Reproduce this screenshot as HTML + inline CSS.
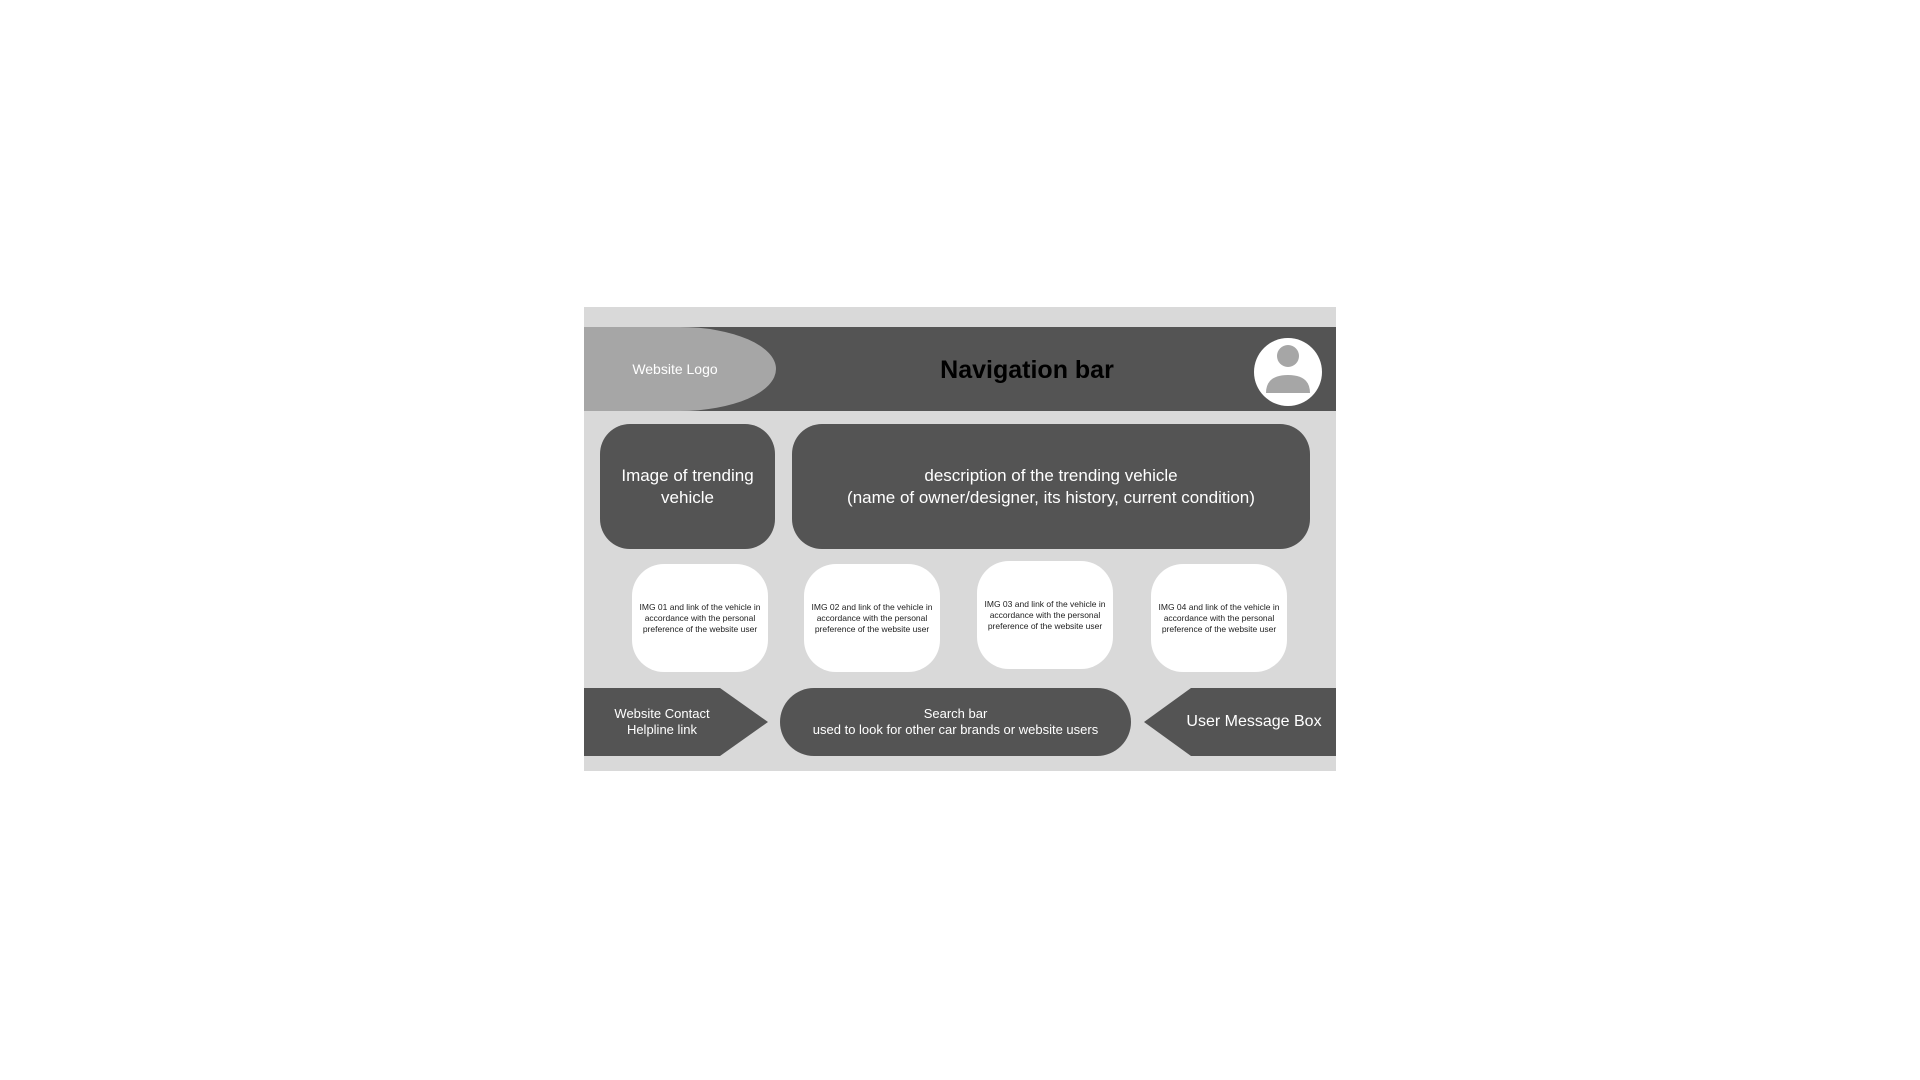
<!DOCTYPE html>
<html><head><meta charset="utf-8"><style>
body{margin:0;width:1920px;height:1080px;background:#fff;position:relative;overflow:hidden;font-family:"Liberation Sans",sans-serif;}
div{position:absolute;box-sizing:border-box}
.c{display:flex;align-items:center;justify-content:center;text-align:center;color:#fff}
.d{background:#545454}
.card{background:#fff;border-radius:32px;color:#222;font-size:8.5px;line-height:11px;width:136px;height:108px;padding:0 6px}
</style></head><body>
<div style="left:584px;top:307px;width:752px;height:464px;background:#d9d9d9"></div>
<div class="d" style="left:584px;top:327px;width:752px;height:84px"></div>
<div class="c" style="left:584px;top:327px;width:192px;height:84px;background:#a6a6a6;border-radius:0 96px 96px 0/0 42px 42px 0;font-size:14px;padding-right:10px">Website Logo</div>
<div class="c" style="left:827px;top:350px;width:400px;height:40px;color:#000;font-weight:bold;font-size:25px">Navigation bar</div>
<svg style="position:absolute;left:1253px;top:338px" width="70" height="70"><circle cx="35" cy="34" r="34" fill="#fff"/><circle cx="35" cy="18" r="11" fill="#a6a6a6"/><path d="M13 55 Q13 37 35 37 Q57 37 57 55 Z" fill="#a6a6a6"/></svg>
<div class="c d" style="left:600px;top:424px;width:175px;height:125px;border-radius:30px;font-size:17px;line-height:22px">Image of trending<br>vehicle</div>
<div class="c d" style="left:792px;top:424px;width:518px;height:125px;border-radius:30px;font-size:17px;line-height:22px">description of the trending vehicle<br>(name of owner/designer, its history, current condition)</div>
<div class="c card" style="left:632px;top:564px">IMG 01 and link of the vehicle in accordance with the personal preference of the website user</div>
<div class="c card" style="left:804px;top:564px">IMG 02 and link of the vehicle in accordance with the personal preference of the website user</div>
<div class="c card" style="left:977px;top:561px">IMG 03 and link of the vehicle in accordance with the personal preference of the website user</div>
<div class="c card" style="left:1151px;top:564px">IMG 04 and link of the vehicle in accordance with the personal preference of the website user</div>
<svg style="position:absolute;left:584px;top:688px" width="184" height="68"><polygon points="0,0 136,0 184,34 136,68 0,68" fill="#545454"/></svg>
<div class="c" style="left:584px;top:688px;width:156px;height:68px;font-size:13px;line-height:16px">Website Contact<br>Helpline link</div>
<div class="c d" style="left:780px;top:688px;width:351px;height:68px;border-radius:34px;font-size:13px;line-height:16px">Search bar<br>used to look for other car brands or website users</div>
<svg style="position:absolute;left:1144px;top:688px" width="192" height="68"><polygon points="0,34 47,0 192,0 192,68 47,68" fill="#545454"/></svg>
<div class="c" style="left:1176px;top:688px;width:156px;height:68px;font-size:16px">User Message Box</div>
</body></html>
